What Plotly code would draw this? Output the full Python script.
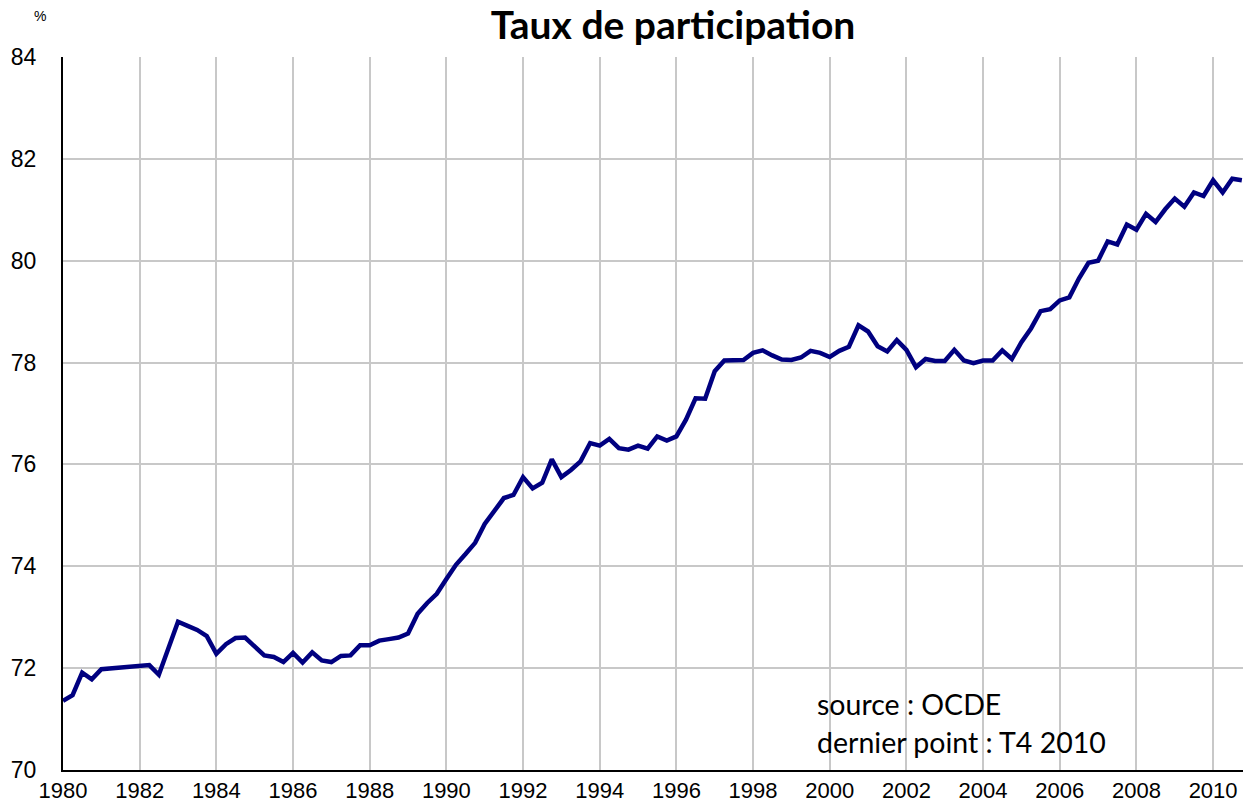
import plotly.graph_objects as go

start_year = 1980
taux = [
    71.36, 71.47, 71.91, 71.78, 71.98, 72.00, 72.00, 72.03, 72.04, 72.06,
    71.87, 72.42, 72.91, 72.83, 72.75, 72.63, 72.28, 72.47, 72.59, 72.60,
    72.43, 72.25, 72.22, 72.12, 72.30, 72.11, 72.31, 72.15, 72.12, 72.24,
    72.25, 72.45, 72.45, 72.54, 72.57, 72.60, 72.68, 73.07, 73.28, 73.46,
    73.75, 74.03, 74.24, 74.46, 74.83, 75.09, 75.34, 75.40, 75.75, 75.53,
    75.64, 76.10, 75.75, 75.89, 76.06, 76.42, 76.37, 76.50, 76.32, 76.29,
    76.37, 76.31, 76.55, 76.47, 76.55, 76.88, 77.30, 77.29, 77.83, 78.04,
    78.04, 78.05, 78.19, 78.24, 78.14, 78.06, 78.05, 78.10, 78.23, 78.19,
    78.11, 78.23, 78.31, 78.73, 78.61, 78.32, 78.22, 78.44, 78.25, 77.91,
    78.07, 78.03, 78.03, 78.25, 78.04, 77.99, 78.04, 78.04, 78.24, 78.07,
    78.40, 78.67, 79.01, 79.05, 79.22, 79.28, 79.65, 79.96, 80.00, 80.38,
    80.32, 80.71, 80.61, 80.92, 80.76, 81.01, 81.22, 81.06, 81.34, 81.27,
    81.58, 81.34, 81.61, 81.58,
]
dates = [start_year + q / 4 for q in range(len(taux))]
x_ticks = list(range(1980, 2011, 2))
y_ticks = list(range(70, 85, 2))

fig = go.Figure()
fig.add_trace(go.Scatter(
    x=dates, y=taux, mode="lines",
    line=dict(color="#000080", width=4.5),
    showlegend=False, hoverinfo="x+y",
))

fig.update_layout(
    width=1245, height=806,
    paper_bgcolor="white", plot_bgcolor="white",
    margin=dict(l=63, r=2, t=57, b=36),
    title=dict(
        text="<b>Taux de participation</b>",
        font=dict(family="Lato", size=39, color="black"),
        x=673 / 1245, xref="container", xanchor="center",
        y=1 - 25 / 806, yref="container", yanchor="middle",
    ),
    xaxis=dict(
        range=[1980, 2010.78],
        tickvals=x_ticks, ticktext=[str(t) for t in x_ticks],
        showgrid=True, gridcolor="#c8c8c8", gridwidth=2,
        showline=True, linecolor="black", linewidth=2,
        ticks="", zeroline=False,
        tickfont=dict(family="Liberation Sans, Arial", size=22, color="black"),
    ),
    yaxis=dict(
        range=[70, 84],
        tickvals=y_ticks,
        showgrid=True, gridcolor="#c8c8c8", gridwidth=2,
        showline=True, linecolor="black", linewidth=2,
        ticks="", zeroline=False, ticklabelstandoff=20,
        tickfont=dict(family="Liberation Sans, Arial", size=23, color="black"),
    ),
    annotations=[
        dict(text="%", xref="paper", yref="paper", x=-0.0195, y=1.0575,
             showarrow=False, xanchor="center", yanchor="middle",
             font=dict(family="Liberation Sans, Arial", size=14, color="black")),
        dict(text="source : OCDE", xref="paper", yref="paper",
             x=(815 - 63) / 1180, y=(770 - 704) / 713,
             showarrow=False, xanchor="left", yanchor="middle",
             font=dict(family="Lato", size=28.5, color="black")),
        dict(text="dernier point : T4 2010", xref="paper", yref="paper",
             x=(815 - 63) / 1180, y=(770 - 742) / 713,
             showarrow=False, xanchor="left", yanchor="middle",
             font=dict(family="Lato", size=28.5, color="black")),
    ],
)

fig.write_html(
    "out.html",
    config={"displayModeBar": False},
    post_script="document.body.style.margin='0';document.body.style.padding='0';",
)
